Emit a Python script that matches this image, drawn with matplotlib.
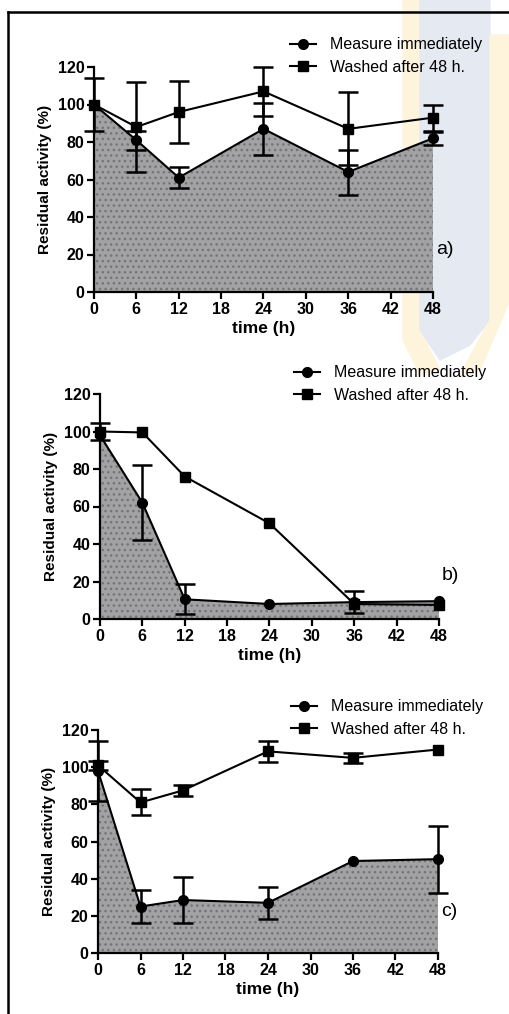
import matplotlib.pyplot as plt
from matplotlib.patches import Polygon
from matplotlib.lines import Line2D

plt.rcParams['font.family'] = ['Liberation Sans', 'DejaVu Sans']

time_h = [0, 6, 12, 24, 36, 48]
x_ticks = [0, 6, 12, 18, 24, 30, 36, 42, 48]
y_ticks = [0, 20, 40, 60, 80, 100, 120]

# panel a
a_measure = [100, 81, 61, 87, 64, 82]
a_measure_err = [14, 5, 5.5, 14, 12, 3.5]
a_washed = [100, 88, 96, 107, 87, 93]
a_washed_err = [0, 24, 16.5, 13, 19.5, 7]

# panel b
b_measure = [98, 62, 10.5, 8, 9, 9.5]
b_measure_err = [0, 20, 8, 0, 6, 0]
b_washed = [100, 99.5, 76, 51, 8, 7.5]
b_washed_err = [4.5, 0, 0, 0, 0, 0]

# panel c
c_measure = [98, 25, 28.5, 27, 49.5, 50.5]
c_measure_err = [16, 9, 12.5, 8.5, 0, 18]
c_washed = [101, 81, 87.5, 108.5, 105, 109.5]
c_washed_err = [2.5, 7, 3, 5.5, 2.5, 0]

labels = ["Measure immediately", "Washed after 48 h."]
panel_tags = ["a)", "b)", "c)"]

fig = plt.figure(figsize=(5.1, 10.14), dpi=100)

W, H = 510, 1014
def fx(px):
    return px / W
def fy(py):
    return 1 - py / H

# faint watermark behind the charts
yellow = "#fef4dc"
blue = "#e5e9f2"
fig.patches.append(Polygon([(fx(403), fy(0)), (fx(420), fy(0)), (fx(420), fy(330)),
                            (fx(440), fy(370)), (fx(420), fy(375)), (fx(403), fy(340))],
                           closed=True, transform=fig.transFigure, color=yellow, zorder=-5))
fig.patches.append(Polygon([(fx(420), fy(0)), (fx(490), fy(0)), (fx(490), fy(320)),
                            (fx(470), fy(345)), (fx(440), fy(360)), (fx(420), fy(330))],
                           closed=True, transform=fig.transFigure, color=blue, zorder=-5))
fig.patches.append(Polygon([(fx(490), fy(35)), (fx(510), fy(35)), (fx(510), fy(300)),
                            (fx(480), fy(370)), (fx(460), fy(375)), (fx(490), fy(320))],
                           closed=True, transform=fig.transFigure, color=yellow, zorder=-5))

# frame lines
fig.add_artist(Line2D([fx(8), fx(8)], [0, fy(12)], color="black", lw=1.8, transform=fig.transFigure))
fig.add_artist(Line2D([fx(8), 1], [fy(12), fy(12)], color="black", lw=1.8, transform=fig.transFigure))

panels = [
    ([94 / W, 1 - 292 / H, 339 / W, 225 / H], a_measure, a_measure_err, a_washed, a_washed_err, (286, 38)),
    ([100 / W, 1 - 619 / H, 339 / W, 225 / H], b_measure, b_measure_err, b_washed, b_washed_err, (290, 366)),
    ([98 / W, 1 - 953 / H, 340 / W, 223 / H], c_measure, c_measure_err, c_washed, c_washed_err, (287, 700)),
]
tag_pos = [(436, 249), (442, 575), (441, 912)]


def draw_series(ax, y, err, marker):
    ax.plot(time_h, y, color="black", marker=marker, markersize=7, linewidth=1.5,
            clip_on=False, zorder=3)
    ex = [t for t, e in zip(time_h, err) if e > 0]
    ey = [v for v, e in zip(y, err) if e > 0]
    ee = [e for e in err if e > 0]
    ax.errorbar(ex, ey, yerr=ee, fmt="none", ecolor="black", elinewidth=1.8,
                capsize=7, capthick=1.8, clip_on=False, zorder=3)


for i, (rect, m, me, w, we, leg) in enumerate(panels):
    ax = fig.add_axes(rect)
    ax.set_facecolor("none")
    ax.fill_between(time_h, 0, m, facecolor="#a2a2a5", edgecolor="#747474",
                    hatch="...", linewidth=0, zorder=1)
    draw_series(ax, w, we, "s")
    draw_series(ax, m, me, "o")
    ax.set_xlim(0, 48)
    ax.set_ylim(0, 120)
    ax.set_xticks(x_ticks)
    ax.set_yticks(y_ticks)
    for s in ["top", "right"]:
        ax.spines[s].set_visible(False)
    for s in ["left", "bottom"]:
        ax.spines[s].set_linewidth(1.6)
    ax.tick_params(direction="out", length=5, width=1.6, labelsize=11.5, pad=2)
    for t in ax.get_xticklabels() + ax.get_yticklabels():
        t.set_fontweight("bold")
    ax.set_xlabel("time (h)", fontsize=12.5, fontweight="bold", labelpad=3)
    ax.set_ylabel("Residual activity (%)", fontsize=11, fontweight="bold", labelpad=4)

    handles = [Line2D([], [], color="black", marker="o", markersize=7, lw=1.5),
               Line2D([], [], color="black", marker="s", markersize=7, lw=1.5)]
    lx, ly = leg
    fig.legend(handles, labels, loc="upper left",
               bbox_to_anchor=(fx(lx - 10), fy(ly - 15)), frameon=False,
               fontsize=11.5, handlelength=1.6, labelspacing=0.45, handletextpad=0.9)
    tx, ty = tag_pos[i]
    fig.text(fx(tx), fy(ty), panel_tags[i], fontsize=14, va="center", ha="left")

fig.savefig("out.png", dpi=100)
